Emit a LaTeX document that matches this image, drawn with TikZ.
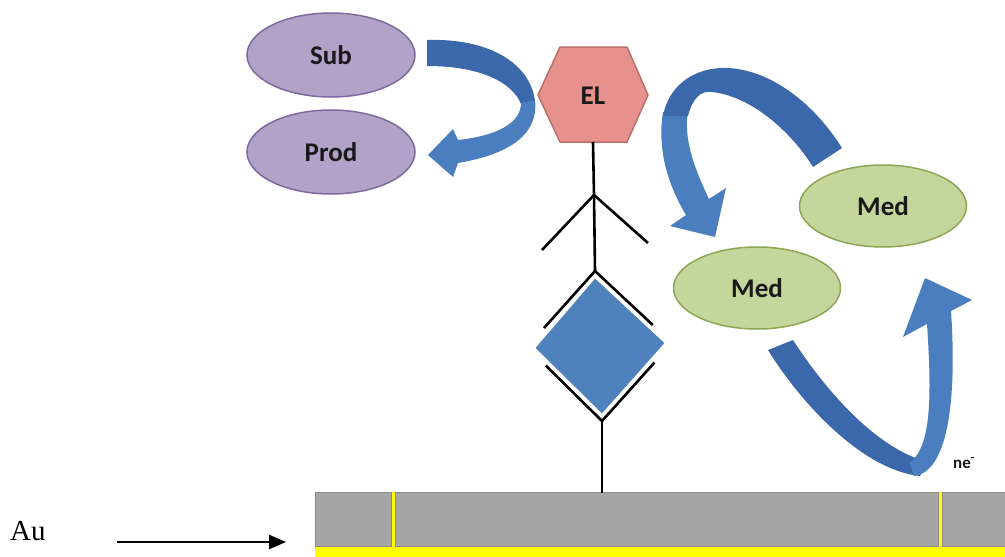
\documentclass[tikz,border=0pt]{standalone}
\usepackage{fontspec}
\setmainfont{Carlito}
\newfontfamily\auserif{Liberation Serif}
\usetikzlibrary{shapes.geometric,arrows.meta,calc}
\definecolor{purfill}{HTML}{B3A2C7}
\definecolor{purline}{HTML}{7E6A9E}
\definecolor{hexfill}{HTML}{E6918D}
\definecolor{hexline}{HTML}{BE6E69}
\definecolor{grnfill}{HTML}{C3D69B}
\definecolor{grnline}{HTML}{8EA653}
\definecolor{bluelight}{HTML}{4A7EBE}
\definecolor{bluedark}{HTML}{3B68AA}
\definecolor{dmdblue}{HTML}{4F81BD}
\definecolor{barfill}{HTML}{A6A6A6}
\definecolor{barline}{HTML}{8A8A8A}
\definecolor{goldlayer}{HTML}{FFFF00}
\begin{document}
\begin{tikzpicture}[x=1pt,y=-1pt,
  lbl/.style={font=\fontsize{27}{30}\selectfont\bfseries, text=black!90},
  pure/.style={ellipse, draw=purline, fill=purfill, line width=1.5pt,
    minimum width=168pt, minimum height=84pt, inner sep=0pt, lbl},
  mede/.style={ellipse, draw=grnline, fill=grnfill, line width=1.5pt,
    minimum width=167pt, minimum height=82pt, inner sep=0pt, lbl},
  stick/.style={line width=2.6pt, black},
  cell/.style={fill=barfill, draw=barline, line width=1pt},
  ribdark/.style={fill=bluedark},
  riblight/.style={fill=bluelight}]
\useasboundingbox (0,0) rectangle (1005,557);

% surface
\fill[goldlayer] (315,545) rectangle (1005,557);
\fill[goldlayer] (390,492) rectangle (396,557);
\fill[goldlayer] (937,492) rectangle (943,557);
\draw[cell] (315.5,492.5) rectangle (391,546);
\draw[cell] (395,492.5) rectangle (938.5,546);
\draw[cell] (942.5,492.5) rectangle (1010,546);

% Au label and arrow
\node[font=\auserif\fontsize{29}{32}\selectfont, anchor=base west, inner sep=0pt] (au) at (10,540) {Au};
\coordinate (aus) at (117,542);
\coordinate (aut) at (286,542);
\draw[line width=2.5pt, -{Triangle[length=17pt,width=14pt]}] (aus) -- (aut);

% ellipses
\node[pure] (sub) at (331,55) {Sub};
\node[pure] (prod) at (331,152) {Prod};
\node[mede] (medA) at (883,206) {Med};
\node[mede] (medB) at (757,288) {Med};

% hexagon EL
\draw[fill=hexfill, draw=hexline, line width=1.5pt]
  (538,95) -- (560,47) -- (627,47) -- (648,95) -- (627,142) -- (560,142) -- cycle;
\node[lbl] (el) at (593,96) {EL};

% stick figure
\coordinate (hexb) at (593,142);
\coordinate (fork) at (594,195);
\coordinate (armL) at (542,250);
\coordinate (armR) at (648,243);
\coordinate (T) at (595,271);
\coordinate (L) at (527,347);
\coordinate (R) at (672,343);
\coordinate (B) at (602,421);
\coordinate (surf) at (602,493);
\draw[stick] (hexb) -- (fork) -- (T);
\draw[stick] (armL) -- (fork) -- (armR);
\draw[fill=dmdblue, draw=white, line width=2pt]
  (595,277) -- (666,343) -- (602,415) -- (534,348) -- cycle;
\draw[stick] ($(T)!0.75!(L)$) -- (T) -- ($(T)!0.75!(R)$);
\draw[stick] ($(B)!0.75!(L)$) -- (B) -- ($(B)!0.75!(R)$);
\draw[stick] (B) -- (surf);

% arrow Sub -> Prod
\fill[ribdark] (427,40) .. controls (487,38) and (530,62) .. (535,101)
  -- (521,104) .. controls (512,82) and (480,66) .. (427,66) -- cycle;
\fill[riblight] (535,100) .. controls (539,137) and (505,155) .. (458,163)
  -- (453,177) -- (428,155) -- (453,129) -- (458,140)
  .. controls (495,136) and (521,124) .. (521,103) -- cycle;

% arrow upper Med -> lower Med
\fill[riblight] (663,112) .. controls (657,150) and (668,185) .. (686,215)
  -- (670,226) -- (715,237) -- (726,188) -- (709,199)
  .. controls (696,172) and (683,140) .. (688,112) -- cycle;
\fill[ribdark] (842,148) .. controls (812,100) and (765,66) .. (720,68)
  .. controls (690,70) and (668,88) .. (663,116) -- (688,116)
  .. controls (692,100) and (700,90) .. (712,92)
  .. controls (750,96) and (790,130) .. (813,167) -- cycle;

% arrow lower Med -> upper Med
\fill[ribdark] (768,350) .. controls (800,402) and (862,470) .. (920,476)
  -- (928,462) .. controls (880,450) and (830,397) .. (793,340) -- cycle;
\fill[riblight] (914,476) .. controls (948,472) and (957,400) .. (951,311)
  -- (972,300) -- (925,278) -- (903,337) -- (927,324)
  .. controls (932,400) and (931,445) .. (910,463) -- cycle;

\node[font=\fontsize{17}{20}\selectfont\bfseries, text=black!90, anchor=base west, inner sep=0pt] (ne) at (953,468) {ne\textsuperscript{-}};
\end{tikzpicture}
\end{document}
